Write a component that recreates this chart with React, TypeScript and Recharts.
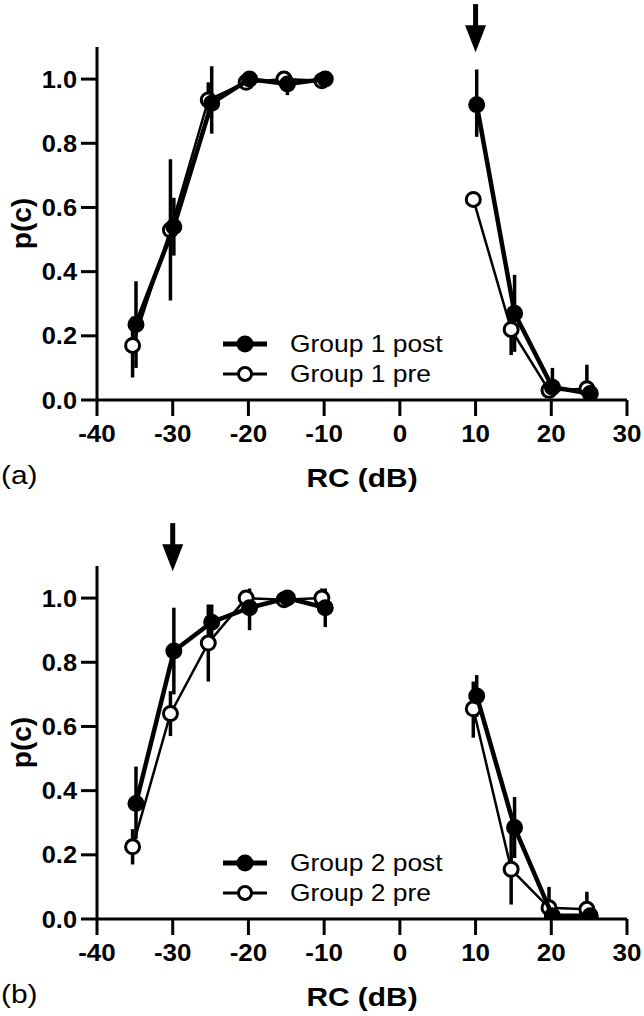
import { ScatterChart, Scatter, XAxis, YAxis, ErrorBar, ReferenceDot } from "recharts"

// RC levels (dB) tested
const levels = [-35, -30, -25, -20, -15, -10, 10, 15, 20, 25]
const xTicks = [-40, -30, -20, -10, 0, 10, 20, 30]
const yTicks = [0, 0.2, 0.4, 0.6, 0.8, 1.0]

// Group 1
const g1Post = [0.235, 0.54, 0.925, 1.0, 0.985, 1.0, 0.92, 0.27, 0.04, 0.02]
const g1PostLo = [0.1, 0.45, 0.83, 0.98, 0.95, 0.98, 0.82, 0.15, 0.01, 0.0]
const g1PostHi = [0.37, 0.63, 1.04, 1.01, 1.0, 1.01, 1.03, 0.39, 0.1, 0.05]
const g1Pre = [0.17, 0.53, 0.935, 0.99, 1.0, 0.995, 0.625, 0.22, 0.03, 0.035]
const g1PreLo = [0.07, 0.31, 0.88, 0.98, 0.99, 0.99, 0.625, 0.14, 0.01, 0.0]
const g1PreHi = [0.26, 0.75, 0.99, 1.0, 1.01, 1.0, 0.625, 0.28, 0.05, 0.11]

// Group 2
const g2Post = [0.36, 0.835, 0.925, 0.97, 1.0, 0.97, 0.695, 0.285, 0.01, 0.01]
const g2PostLo = [0.25, 0.7, 0.87, 0.9, 0.99, 0.91, 0.63, 0.19, 0.0, 0.0]
const g2PostHi = [0.475, 0.97, 0.98, 1.03, 1.01, 1.03, 0.76, 0.38, 0.03, 0.03]
const g2Pre = [0.225, 0.64, 0.86, 1.0, 0.995, 1.0, 0.655, 0.155, 0.035, 0.03]
const g2PreLo = [0.17, 0.57, 0.74, 0.98, 0.99, 0.98, 0.565, 0.045, 0.0, 0.0]
const g2PreHi = [0.28, 0.71, 0.98, 1.02, 1.0, 1.03, 0.74, 0.27, 0.1, 0.085]

const FONT = "'Liberation Sans', Arial, sans-serif"

type Pt = { x: number; y: number; err: [number, number] }

// small horizontal nudge so pre/post markers don't sit exactly on top of each other
function build(ys: number[], lo: number[], hi: number[], nudge: number): Pt[] {
  return levels.map((x, i) => ({
    x: x + nudge,
    y: ys[i],
    err: [Math.max(0, ys[i] - lo[i]), Math.max(0, hi[i] - ys[i])] as [number, number],
  }))
}

const FilledDot = (p: any) => <circle cx={p.cx} cy={p.cy} r={8.5} fill="#000" />
const OpenDot = (p: any) => <circle cx={p.cx} cy={p.cy} r={7} fill="#fff" stroke="#000" strokeWidth={3} />

const Arrow = (p: any) => {
  const { cx, cy } = p
  return (
    <g>
      <rect x={cx - 2.5} y={cy - 48} width={5} height={24} fill="#000" />
      <polygon points={`${cx - 10.5},${cy - 27} ${cx + 10.5},${cy - 27} ${cx},${cy}`} fill="#000" />
    </g>
  )
}

// the original lettering is a little wide, so stretch it horizontally
const XTick = (p: any) => (
  <text
    transform={`translate(${p.x},${p.y + 16}) scale(1.13,1)`}
    textAnchor="middle"
    fill="#000"
    style={{ fontFamily: FONT, fontWeight: 700, fontSize: 23 }}
  >
    {p.payload.value}
  </text>
)

const YTick = (p: any) => (
  <text
    transform={`translate(${p.x},${p.y + 8.5}) scale(1.08,1)`}
    textAnchor="end"
    fill="#000"
    style={{ fontFamily: FONT, fontWeight: 700, fontSize: 23.5 }}
  >
    {Number(p.payload.value).toFixed(1)}
  </text>
)

const YLabel = (p: any) => {
  const vb = p.viewBox || { y: 0, height: 0 }
  const cy = vb.y + vb.height / 2
  return (
    <text
      x={21}
      y={cy}
      transform={`rotate(-90, 21, ${cy})`}
      textAnchor="middle"
      dominantBaseline="central"
      style={{ fontFamily: FONT, fontWeight: 700, fontSize: 28 }}
      fill="#000"
    >
      p(c)
    </text>
  )
}

const XLabel = (p: any) => {
  const vb = p.viewBox || { x: 0, y: 0, width: 0 }
  return (
    <text
      transform={`translate(${vb.x + vb.width / 2},${vb.y + 87}) scale(1.15,1)`}
      textAnchor="middle"
      fill="#000"
      style={{ fontFamily: FONT, fontWeight: 700, fontSize: 26 }}
    >
      RC (dB)
    </text>
  )
}

function LegendKey({ filled, label, top }: { filled: boolean; label: string; top: number }) {
  return (
    <div style={{ position: "absolute", left: 222, top: top - 16, height: 32, display: "flex", alignItems: "center" }}>
      <svg width={46} height={32}>
        <line x1={1} y1={16} x2={45} y2={16} stroke="#000" strokeWidth={filled ? 5 : 3} />
        {filled ? (
          <circle cx={23} cy={16} r={8.5} fill="#000" />
        ) : (
          <circle cx={23} cy={16} r={6.5} fill="#fff" stroke="#000" strokeWidth={3} />
        )}
      </svg>
      <span
        style={{
          marginLeft: 22,
          fontFamily: FONT,
          fontSize: 24,
          color: "#000",
          whiteSpace: "nowrap",
          display: "inline-block",
          transform: "scaleX(1.1)",
          transformOrigin: "left center",
        }}
      >
        {label}
      </span>
    </div>
  )
}

interface PanelProps {
  post: Pt[]
  pre: Pt[]
  arrowX: number
  height: number
  top: number
  group: string
  tag: string
}

function Panel({ post, pre, arrowX, height, top, group, tag }: PanelProps) {
  const axisStroke = { stroke: "#000", strokeWidth: 3 }
  const series = [
    { key: "pre", data: pre, shape: OpenDot, width: 2.5 },
    { key: "post", data: post, shape: FilledDot, width: 4.5 },
  ]
  return (
    <div style={{ position: "relative", width: 644, height }}>
      <ScatterChart width={644} height={height} margin={{ top, right: 17, bottom: height - top - 353 - 90, left: 0 }}>
        <XAxis
          type="number"
          dataKey="x"
          domain={[-40, 30]}
          ticks={xTicks}
          allowDataOverflow
          height={90}
          tickSize={16}
          tickMargin={10}
          axisLine={axisStroke}
          tickLine={axisStroke}
          tick={<XTick />}
          label={<XLabel />}
        />
        <YAxis
          type="number"
          dataKey="y"
          domain={[0, 1.1]}
          ticks={yTicks}
          allowDataOverflow
          width={97}
          tickSize={16}
          tickMargin={4}
          axisLine={axisStroke}
          tickLine={axisStroke}
          tick={<YTick />}
          label={<YLabel />}
        />
        {series.flatMap((s) =>
          [s.data.filter((d) => d.x < 0), s.data.filter((d) => d.x > 0)].map((seg, i) => (
            <Scatter
              key={`${s.key}-${i}`}
              data={seg}
              line={{ stroke: "#000", strokeWidth: s.width }}
              lineType="joint"
              shape={s.shape}
              isAnimationActive={false}
            >
              <ErrorBar dataKey="err" direction="y" width={0} stroke="#000" strokeWidth={3.5} />
            </Scatter>
          ))
        )}
        <ReferenceDot x={arrowX} y={1.084} r={0} shape={Arrow} ifOverflow="visible" />
      </ScatterChart>
      <LegendKey filled label={`${group} post`} top={top + 297} />
      <LegendKey filled={false} label={`${group} pre`} top={top + 327} />
      <div
        style={{
          position: "absolute",
          left: 1,
          top: top + 413,
          fontFamily: FONT,
          fontSize: 26,
          color: "#000",
          transform: "scaleX(1.15)",
          transformOrigin: "left center",
        }}
      >
        {tag}
      </div>
    </div>
  )
}

export default function App() {
  return (
    <div style={{ position: "absolute", left: 0, top: 0, width: 644, height: 1016, background: "#fff" }}>
      <Panel
        post={build(g1Post, g1PostLo, g1PostHi, 0.15)}
        pre={build(g1Pre, g1PreLo, g1PreHi, -0.3)}
        arrowX={10}
        height={500}
        top={47}
        group="Group 1"
        tag="(a)"
      />
      <Panel
        post={build(g2Post, g2PostLo, g2PostHi, 0.15)}
        pre={build(g2Pre, g2PreLo, g2PreHi, -0.3)}
        arrowX={-30}
        height={516}
        top={66}
        group="Group 2"
        tag="(b)"
      />
    </div>
  )
}
